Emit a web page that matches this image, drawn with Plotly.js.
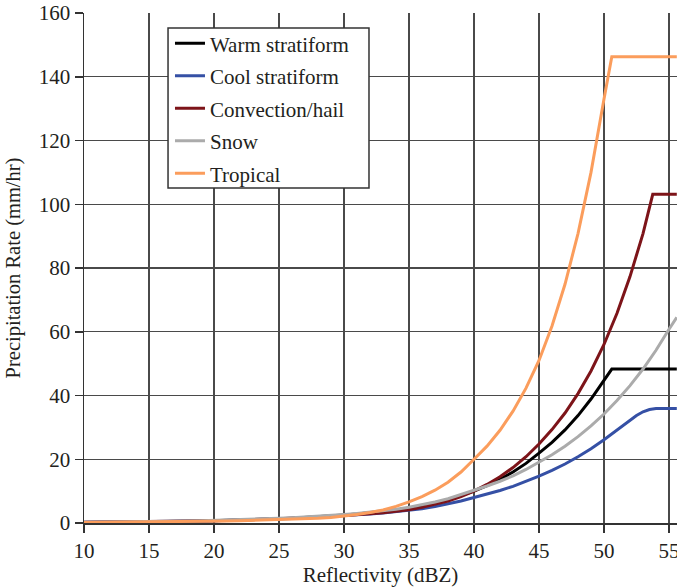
<!DOCTYPE html>
<html>
<head>
<meta charset="utf-8">
<script src="https://cdn.plot.ly/plotly-3.0.1.min.js"></script>
<style>
  html, body { margin: 0; padding: 0; background: #ffffff; }
  #chart { width: 677px; height: 587px; }
</style>
</head>
<body>
<div id="chart"></div>
<script>
// Reflectivity (dBZ) sample points shared by all Z-R curves, 10 to 50 dBZ
const dbz = [10, 11, 12, 13, 14, 15, 16, 17, 18, 19,
             20, 21, 22, 23, 24, 25, 26, 27, 28, 29,
             30, 31, 32, 33, 34, 35, 36, 37, 38, 39,
             40, 41, 42, 43, 44, 45, 46, 47, 48, 49, 50];

// Precipitation rate (mm/hr) for each relation at the points above
const warmStratiform = [0.15, 0.17, 0.2, 0.24, 0.28, 0.33, 0.38, 0.44, 0.51, 0.59,
                        0.68, 0.78, 0.89, 1.02, 1.16, 1.32, 1.5, 1.7, 1.93, 2.19,
                        2.48, 2.8, 3.17, 3.6, 4.08, 4.65, 5.35, 6.2, 7.2, 8.5,
                        10.0, 11.7, 13.7, 16.0, 18.7, 21.9, 25.3, 29.2, 33.7, 38.9, 44.7];
const coolStratiform = [0.25, 0.27, 0.3, 0.33, 0.37, 0.41, 0.46, 0.52, 0.58, 0.65,
                        0.73, 0.82, 0.92, 1.03, 1.16, 1.3, 1.45, 1.62, 1.81, 2.02,
                        2.25, 2.5, 2.8, 3.12, 3.5, 3.92, 4.5, 5.2, 5.95, 6.9,
                        8.0, 9.0, 10.2, 11.5, 13.0, 14.7, 16.5, 18.5, 20.8, 23.3, 26.1];
const convectionHail = [0.22, 0.25, 0.28, 0.32, 0.36, 0.41, 0.46, 0.52, 0.58, 0.65,
                        0.73, 0.82, 0.92, 1.03, 1.15, 1.29, 1.44, 1.61, 1.8, 2.02,
                        2.27, 2.55, 2.87, 3.24, 3.67, 4.15, 4.9, 5.8, 6.9, 8.3,
                        10.0, 12.1, 14.5, 17.4, 20.8, 24.8, 29.3, 34.5, 40.6, 47.7, 56.0];
const snow = [0.2, 0.23, 0.27, 0.31, 0.36, 0.41, 0.47, 0.54, 0.62, 0.7,
              0.8, 0.91, 1.03, 1.17, 1.32, 1.49, 1.68, 1.89, 2.12, 2.38,
              2.67, 3.0, 3.38, 3.82, 4.32, 4.95, 5.7, 6.6, 7.6, 8.9,
              10.3, 11.6, 13.1, 14.8, 16.8, 19.0, 21.4, 24.1, 27.1, 30.5, 34.2];
const tropical = [0.18, 0.2, 0.22, 0.25, 0.28, 0.31, 0.35, 0.39, 0.44, 0.5,
                  0.56, 0.63, 0.71, 0.8, 0.9, 1.02, 1.15, 1.3, 1.48, 1.75,
                  2.15, 2.65, 3.3, 4.1, 5.2, 6.6, 8.3, 10.3, 12.8, 16.0,
                  20.0, 24.1, 29.1, 35.1, 42.3, 51.0, 61.8, 74.9, 90.8, 110.0, 133.0];

// Upper ends of each curve above 50 dBZ (rate caps included)
const warmTailDbz = [50.6, 55.6];
const warmTailRate = [48.3, 48.3];
const coolTailDbz = [51, 52, 52.5, 53, 53.5, 54, 55.6];
const coolTailRate = [29.2, 32.2, 33.7, 34.9, 35.6, 35.9, 35.9];
const convTailDbz = [51, 52, 53, 53.75, 55.6];
const convTailRate = [65.8, 77.3, 90.8, 103.1, 103.1];
const snowTailDbz = [51, 52, 53, 54, 55, 55.6];
const snowTailRate = [38.4, 43.1, 48.3, 54.2, 60.8, 64.5];
const tropTailDbz = [50.6, 55.6];
const tropTailRate = [146.3, 146.3];

const seriesNames = ['Warm stratiform', 'Cool stratiform', 'Convection/hail', 'Snow', 'Tropical'];
const seriesColors = ['#000000', '#3550a5', '#7d1419', '#ababab', '#fb9d5c'];

const xTicks = [10, 15, 20, 25, 30, 35, 40, 45, 50, 55];
const yTicks = [0, 20, 40, 60, 80, 100, 120, 140, 160];

const serif = 'Liberation Serif, Times New Roman, serif';
const textColor = '#231f20';

const curves = [
  [warmStratiform, warmTailDbz, warmTailRate],
  [coolStratiform, coolTailDbz, coolTailRate],
  [convectionHail, convTailDbz, convTailRate],
  [snow, snowTailDbz, snowTailRate],
  [tropical, tropTailDbz, tropTailRate]
];

const traces = curves.map(function (c, i) {
  return {
    type: 'scatter',
    mode: 'lines',
    name: seriesNames[i],
    legendgroup: 'g' + i,
    x: dbz.concat(c[1]),
    y: c[0].concat(c[2]),
    line: { color: seriesColors[i], width: 3 },
    hoverinfo: 'skip'
  };
});

const axisCommon = {
  showgrid: true,
  gridcolor: '#4a4a4a',
  gridwidth: 1.3,
  zeroline: false,
  showline: true,
  linecolor: '#333333',
  linewidth: 1.5,
  ticks: 'outside',
  ticklen: 8,
  tickwidth: 1.5,
  tickcolor: '#333333',
  tickfont: { family: serif, size: 21, color: textColor },
  ticklabeloverflow: 'allow'
};

const layout = {
  width: 677,
  height: 587,
  margin: { l: 84, r: 0, t: 13, b: 64 },
  paper_bgcolor: '#ffffff',
  plot_bgcolor: '#ffffff',
  showlegend: true,
  // white framed panel behind the legend entries
  shapes: [{
    type: 'rect', layer: 'above',
    xref: 'paper', yref: 'paper',
    x0: 0.1417, x1: 0.4806, y0: 0.6569, y1: 0.9706,
    fillcolor: '#ffffff',
    line: { color: '#333333', width: 1.5 }
  }],
  legend: {
    x: 0.145, y: 0.9801, xanchor: 'left', yanchor: 'top',
    bgcolor: 'rgba(0,0,0,0)',
    borderwidth: 0,
    font: { family: serif, size: 21, color: textColor },
    tracegroupgap: 2.2,
    itemwidth: 30
  },
  xaxis: Object.assign({}, axisCommon, {
    range: [10, 55.615],
    tickvals: xTicks,
    ticktext: xTicks.map(String),
    title: { text: 'Reflectivity (dBZ)', font: { family: serif, size: 21, color: textColor }, standoff: 5 }
  }),
  yaxis: Object.assign({}, axisCommon, {
    range: [0, 160],
    tickvals: yTicks,
    ticktext: yTicks.map(String),
    title: { text: 'Precipitation Rate (mm/hr)', font: { family: serif, size: 20.5, color: textColor }, standoff: 12 }
  })
};

Plotly.newPlot('chart', traces, layout, { displayModeBar: false, staticPlot: true });
</script>
</body>
</html>
